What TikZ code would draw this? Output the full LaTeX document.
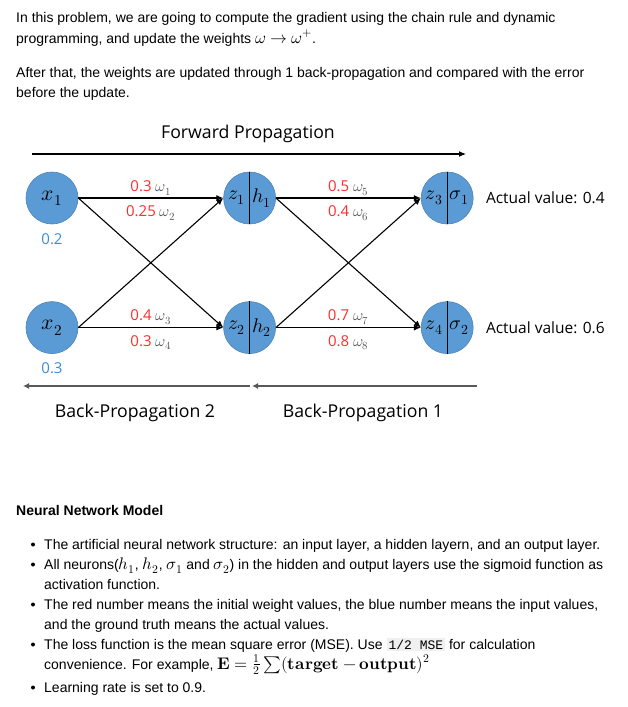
\documentclass[tikz,border=0pt]{standalone}
\usepackage{fontspec}
\usepackage{unicode-math}
\setmainfont{Liberation Sans}
\setmonofont{Liberation Mono}
\setmathfont{latinmodern-math.otf}[Scale=1.2]
\newfontfamily\diagfont{Open Sans}
\usetikzlibrary{arrows.meta,positioning}
\definecolor{nodeblue}{RGB}{91,155,213}
\definecolor{wred}{RGB}{255,45,45}
\definecolor{inblue}{RGB}{58,142,214}
\definecolor{wgray}{RGB}{89,89,89}
\definecolor{codebg}{RGB}{240,240,240}
\tikzset{neuron/.style={
    circle,minimum size=52pt,inner sep=0pt,
    fill=nodeblue,draw=nodeblue!85!black,line width=0.6pt,
    font=\fontsize{18}{18}\selectfont}}
\tikzset{halflabel/.style={inner sep=0pt,font=\fontsize{16.5}{16.5}\selectfont}}
\tikzset{weight/.style={inner sep=2pt,font=\diagfont\fontsize{15}{15}\selectfont}}
\tikzset{diagtext/.style={font=\diagfont\fontsize{17.7}{17.7}\selectfont}}
\tikzset{bodytext/.style={anchor=base west,inner sep=0pt,font=\fontsize{14}{20}\selectfont}}
\tikzset{dot/.style={circle,fill=black,inner sep=0pt,minimum size=4pt}}
\tikzset{link/.style={line width=1.1pt,-{Latex[length=7pt,width=6pt]}}}
\tikzset{backarrow/.style={line width=2pt,draw=wgray,-{Latex[length=6pt,width=6pt]}}}
\newcommand{\wlabel}[2]{\textcolor{wred}{#1}\ \textcolor{wgray}{\fontsize{13}{13}\selectfont$\omega_{#2}$}}

\begin{document}
\begin{tikzpicture}[x=1pt,y=-1pt,node distance=10pt]
\useasboundingbox [fill=white] (0,0) rectangle (627,707);

% introduction
\node (intro1) [bodytext] at (16,22) {In this problem, we are going to compute the gradient using the chain rule and dynamic};
\node (intro2) [bodytext] at (16,43) {programming, and update the weights $\omega \rightarrow \omega^{+}$.};
\node (intro3) [bodytext] at (16,77) {After that, the weights are updated through 1 back-propagation and compared with the error};
\node (intro4) [bodytext] at (16,97) {before the update.};

% propagation arrows
\coordinate (fwdL) at (32,154);
\coordinate (fwdR) at (466,154);
\draw [line width=1.1pt,-{Latex[length=7pt,width=6pt]}] (fwdL) -- (fwdR);
\node (fwd) [diagtext] at (248,134) {Forward Propagation};

% neurons
\node (x1) [neuron] at (52,198) {$x_1$};
\node (x2) [neuron,below=77pt of x1] {$x_2$};
\node (h1) [neuron,right=145pt of x1] {};
\node (h2) [neuron,right=145pt of x2] {};
\node (o1) [neuron,right=145pt of h1] {};
\node (o2) [neuron,right=145pt of h2] {};
\foreach \n in {h1,h2,o1,o2}
  \draw [line width=1.1pt] (\n.north) -- (\n.south);
\node (z1) [halflabel] at ([xshift=-13pt]h1.center) {$z_1$};
\node (a1) [halflabel] at ([xshift=12pt]h1.center) {$h_1$};
\node (z2) [halflabel] at ([xshift=-13pt]h2.center) {$z_2$};
\node (a2) [halflabel] at ([xshift=12pt]h2.center) {$h_2$};
\node (z3) [halflabel] at ([xshift=-13pt]o1.center) {$z_3$};
\node (s1) [halflabel] at ([xshift=12pt]o1.center) {$\sigma_1$};
\node (z4) [halflabel] at ([xshift=-13pt]o2.center) {$z_4$};
\node (s2) [halflabel] at ([xshift=12pt]o2.center) {$\sigma_2$};

\node (in1) [weight,text=inblue,below=7pt of x1] {0.2};
\node (in2) [weight,text=inblue,below=7pt of x2] {0.3};
\node (act1) [diagtext,font=\diagfont\fontsize{15.5}{15.5}\selectfont,right=9pt of o1] {Actual value: 0.4};
\node (act2) [diagtext,font=\diagfont\fontsize{15.5}{15.5}\selectfont,right=9pt of o2] {Actual value: 0.6};

% connections
\draw [link] (x1) -- node [weight,above] {\wlabel{0.3}{1}} node [weight,below=5pt] {\wlabel{0.25}{2}} (h1);
\draw [link] (x2) -- node [weight,above] {\wlabel{0.4}{3}} node [weight,below=5pt] {\wlabel{0.3}{4}} (h2);
\draw [link] (x1.east) -- (h2.west);
\draw [link] (x2.east) -- (h1.west);
\draw [link] (h1) -- node [weight,above] {\wlabel{0.5}{5}} node [weight,below=5pt] {\wlabel{0.4}{6}} (o1);
\draw [link] (h2) -- node [weight,above] {\wlabel{0.7}{7}} node [weight,below=5pt] {\wlabel{0.8}{8}} (o2);
\draw [link] (h1.east) -- (o2.west);
\draw [link] (h2.east) -- (o1.west);

% back propagation
\coordinate (bp2R) at (250,386);
\coordinate (bp2L) at (23,386);
\coordinate (bp1R) at (477,386);
\coordinate (bp1L) at (252,386);
\draw [backarrow] (bp2R) -- (bp2L);
\draw [backarrow] (bp1R) -- (bp1L);
\node (bp2) [diagtext] at (135,413) {Back-Propagation 2};
\node (bp1) [diagtext] at (363,413) {Back-Propagation 1};

% model description
\node (model) [bodytext,font=\bfseries\fontsize{14}{20}\selectfont] at (16,515) {Neural Network Model};
\node (b1) [bodytext] at (44,549) {The artificial neural network structure: an input layer, a hidden layern, and an output layer.};
\node (b2) [bodytext] at (44,569) {All neurons($h_1$, $h_2$, $\sigma_1$ and $\sigma_2$) in the hidden and output layers use the sigmoid function as};
\node (b2b) [bodytext] at (44,589) {activation function.};
\node (b3) [bodytext] at (44,609) {The red number means the initial weight values, the blue number means the input values,};
\node (b3b) [bodytext] at (44,629) {and the ground truth means the actual values.};
\node (b4) [bodytext] at (44,649) {The loss function is the mean square error (MSE). Use {\setlength{\fboxsep}{2pt}\colorbox{codebg}{\ttfamily\fontsize{13}{13}\selectfont 1/2 MSE}} for calculation};
\node (b4b) [bodytext] at (44,669) {convenience. For example, $\symbf{E}=\frac{1}{2}\sum(\symbf{target}-\symbf{output})^2$};
\node (b5) [bodytext] at (44,692) {Learning rate is set to 0.9.};
\foreach \y [count=\i] in {544.5,564.5,604.5,644.5,687.5}
  \node (dot\i) [dot] at (33,\y) {};

\end{tikzpicture}
\end{document}
